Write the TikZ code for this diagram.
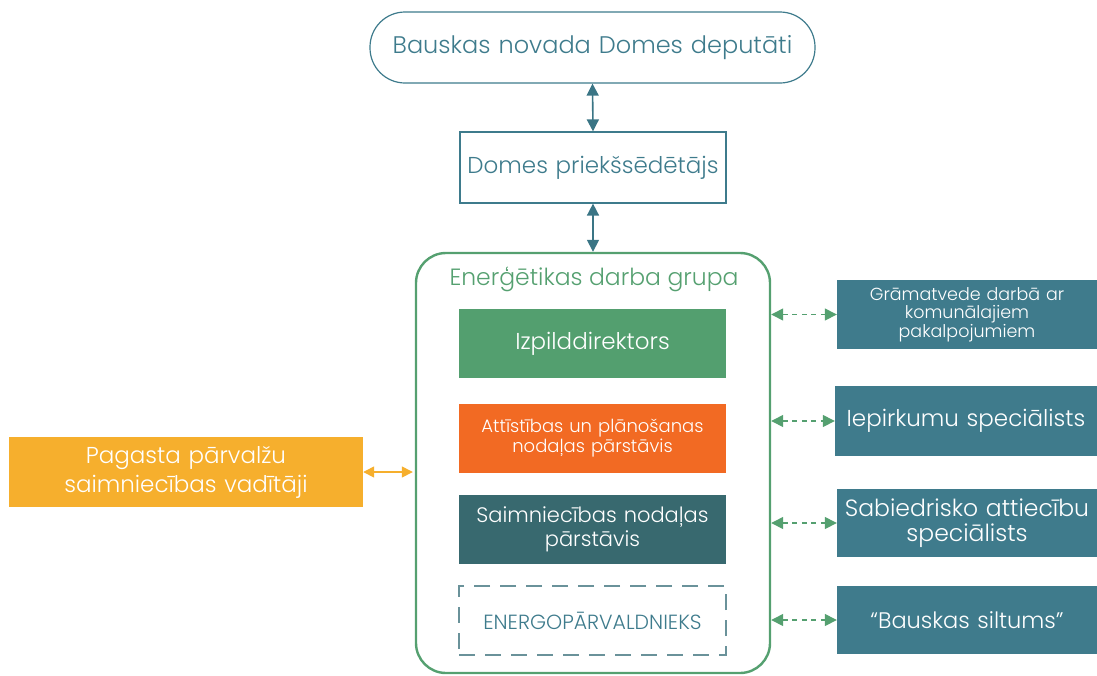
\documentclass[tikz,border=0pt]{standalone}
\usepackage{fontspec}
\setmainfont{Poppins}[UprightFont={* Light}]
\usetikzlibrary{arrows.meta}
\definecolor{tealtxt}{HTML}{3E7B8C}
\definecolor{arrteal}{HTML}{3A7585}
\definecolor{grp}{HTML}{55A070}
\definecolor{izp}{HTML}{539F6F}
\definecolor{orng}{HTML}{F26A23}
\definecolor{dteal}{HTML}{38696F}
\definecolor{rfill}{HTML}{3F7B8C}
\definecolor{yel}{HTML}{F6AF2D}
\definecolor{dashc}{HTML}{6A929A}
\tikzset{
  box/.style={inner sep=2pt, align=center, text width=#1},
  solidbox/.style={box=262pt, minimum width=267pt, minimum height=69pt, draw=none, text=white},
  rbox/.style={box=256pt, minimum width=260pt, minimum height=69pt, fill=rfill, text=white},
  tarr/.style={draw=arrteal, line width=1.6pt, {Triangle[length=12pt,width=12pt]}-{Triangle[length=12pt,width=12pt]}},
  garr/.style={draw=grp, line width=1.4pt, dash pattern=on 5pt off 4.5pt, {Triangle[length=12pt,width=12pt]}-{Triangle[length=12pt,width=12pt]}},
  yarr/.style={draw=yel, line width=1.4pt, {Triangle[length=11pt,width=11pt]}-{Triangle[length=11pt,width=11pt]}},
}
\begin{document}
\begin{tikzpicture}[x=1pt,y=-1pt]
\useasboundingbox (0,0) rectangle (1097,675);
% top
\node[box=440pt, minimum width=445pt, minimum height=71pt, draw=tealtxt, line width=1.2pt, rounded corners=35pt, text=tealtxt, font=\fontsize{24}{28}\selectfont] (top) at (592.5,47.5) {Bauskas novada Domes deputāti};
\node[box=262pt, minimum width=266pt, minimum height=71pt, draw=tealtxt, line width=1.2pt, text=tealtxt, font=\fontsize{23}{27}\selectfont] (chair) at (593,167.5) {Domes priekšsēdētājs};
% group
\node[minimum width=354pt, minimum height=420pt, draw=grp, line width=2.4pt, rounded corners=30pt] (grp) at (593,463) {};
\node[text=grp, font=\fontsize{23.5}{27}\selectfont, inner sep=0pt] (gtitle) at (594,279) {Enerģētikas darba grupa};
\node[solidbox, fill=izp, font=\fontsize{23}{27}\selectfont] (izp) at (592.5,343.5) {Izpilddirektors};
\node[solidbox, fill=orng, font=\fontsize{18}{20}\selectfont] (att) at (592.5,438) {Attīstības un plānošanas\\nodaļas pārstāvis};
\node[solidbox, fill=dteal, font=\fontsize{21}{24.5}\selectfont] (saim) at (592.5,529.5) {Saimniecības nodaļas\\pārstāvis};
\node[box=262pt, minimum width=267pt, minimum height=69pt, draw=dashc, line width=1.2pt, dash pattern=on 16pt off 10pt, text=tealtxt, font=\fontsize{20.5}{24}\selectfont] (eng) at (592.5,620.5) {ENERGOPĀRVALDNIEKS};
% right
\node[rbox, font=\fontsize{17.5}{18.5}\selectfont] (r1) at (967,314.5) {Grāmatvede darbā ar\\komunālajiem\\pakalpojumiem};
\node[rbox, box=258pt, minimum width=262pt, minimum height=70pt, font=\fontsize{23}{27}\selectfont] (r2) at (966,421) {Iepirkumu speciālists};
\node[rbox, minimum height=68pt, font=\fontsize{23.5}{25}\selectfont] (r3) at (967,523) {Sabiedrisko attiecību\\speciālists};
\node[rbox, minimum height=68pt, font=\fontsize{22.5}{27}\selectfont] (r4) at (967,620) {“Bauskas siltums”};
% left
\node[box=350pt, minimum width=354pt, minimum height=70pt, fill=yel, text=white, font=\fontsize{23}{29}\selectfont] (left) at (186,472) {Pagasta pārvalžu\\saimniecības vadītāji};
% arrows
\draw[tarr] (top.south) -- (chair.north);
\draw[tarr] (chair.south) -- (grp.north);
\draw[garr] (grp.east |- r1.west) -- (r1.west);
\draw[garr] (grp.east |- r2.west) -- (r2.west);
\draw[garr] (grp.east |- r3.west) -- (r3.west);
\draw[garr] (grp.east |- r4.west) -- (r4.west);
\draw[yarr] (left.east) -- ([xshift=-2pt]grp.west |- left.east);
\end{tikzpicture}
\end{document}
